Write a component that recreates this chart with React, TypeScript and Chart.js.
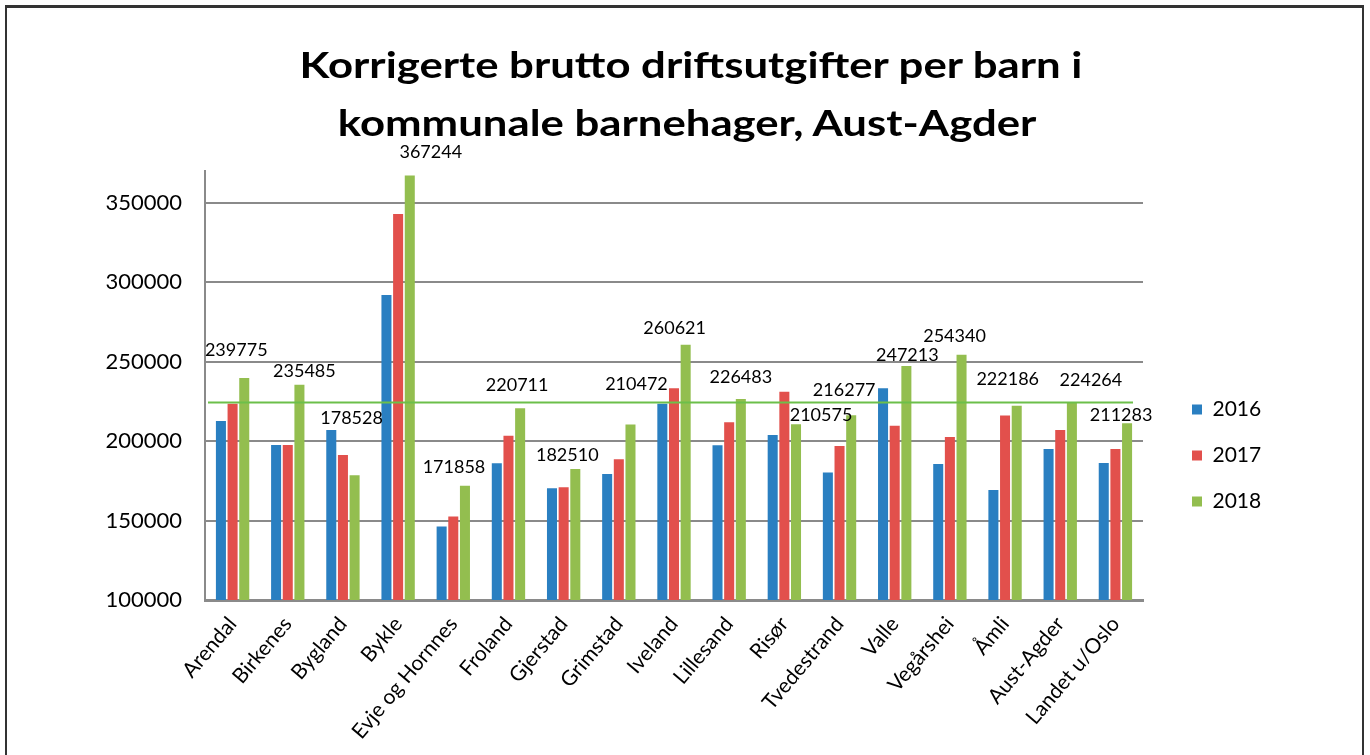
import React, { useEffect, useLayoutEffect, useRef } from "react";
import { Chart, registerables } from "chart.js";

Chart.register(...registerables);

const categories = [
  "Arendal", "Birkenes", "Bygland", "Bykle", "Evje og Hornnes", "Froland", "Gjerstad",
  "Grimstad", "Iveland", "Lillesand", "Risør", "Tvedestrand", "Valle", "Vegårshei",
  "Åmli", "Aust-Agder", "Landet u/Oslo",
];
const values2016 = [212700, 197600, 207000, 292000, 146200, 186000, 170300, 179300, 223500, 197400, 203900, 180200, 233300, 185600, 169300, 195100, 186300];
const values2017 = [223500, 197600, 191300, 343000, 152500, 203300, 171000, 188600, 233300, 211900, 231000, 197000, 209600, 202600, 216100, 207000, 195100];
const values2018 = [239775, 235485, 178528, 367244, 171858, 220711, 182510, 210472, 260621, 226483, 210575, 216277, 247213, 254340, 222186, 224264, 211283];
const seriesLabels = ["2016", "2017", "2018"];
const yTicks = [100000, 150000, 200000, 250000, 300000, 350000];
const averageLine = 224264;
const titleLines = ["Korrigerte brutto driftsutgifter per barn i", "kommunale barnehager, Aust-Agder"];

// label nudges (px) relative to the top centre of each 2018 bar
const labelNudges: [number, number][] = [
  [-8, -28], [5, -14], [-3, -57], [21, -23], [-11, -19], [-3, -23], [-8, -14], [6, -40],
  [-11, -17], [0, -22], [25, -9], [-7, -25], [1, -11], [-7, -19], [-9, -27], [19, -22], [-6, -8],
];

const COLORS = ["#2A7FC1", "#E2504C", "#93BE4F"];
const FONT = "Lato, 'Open Sans', sans-serif";

const overlayPlugin = {
  id: "overlay",
  afterDatasetsDraw(chart: any) {
    const { ctx, chartArea, scales } = chart;
    const y = scales.y.getPixelForValue(averageLine);
    ctx.save();
    ctx.strokeStyle = "#6CBF4A";
    ctx.lineWidth = 2;
    ctx.beginPath();
    ctx.moveTo(chartArea.left + 3, y);
    ctx.lineTo(chartArea.right - 10, y);
    ctx.stroke();

    const meta = chart.getDatasetMeta(2);
    ctx.fillStyle = "#000";
    ctx.font = `18px ${FONT}`;
    ctx.textAlign = "center";
    ctx.textBaseline = "middle";
    meta.data.forEach((bar: any, i: number) => {
      const [dx, dy] = labelNudges[i] || [0, -20];
      ctx.fillText(String(values2018[i]), bar.x + dx, bar.y + dy);
    });
    ctx.restore();
  },
};

export default function App() {
  const ref = useRef<HTMLCanvasElement | null>(null);
  const t1 = useRef<HTMLSpanElement | null>(null);
  const t2 = useRef<HTMLSpanElement | null>(null);

  useLayoutEffect(() => {
    const apply = () => {
      if (!t1.current || !t2.current) return;
      const w = t1.current.offsetWidth;
      if (!w) return;
      const k = 783 / w;
      [t1.current, t2.current].forEach((el) => {
        el.style.transform = `translateX(-50%) scaleX(${k})`;
      });
    };
    apply();
    if ((document as any).fonts && (document as any).fonts.ready) {
      (document as any).fonts.ready.then(apply);
    }
  }, []);

  useEffect(() => {
    if (!ref.current) return;
    const chart = new Chart(ref.current, {
      type: "bar",
      data: {
        labels: categories,
        datasets: [values2016, values2017, values2018].map((d, i) => ({
          label: seriesLabels[i],
          data: d,
          backgroundColor: COLORS[i],
          borderWidth: 0,
          categoryPercentage: 0.634,
          barPercentage: 0.86,
        })),
      },
      options: {
        responsive: false,
        animation: false,
        devicePixelRatio: 1,
        layout: { padding: { left: 0, right: 108, top: 171, bottom: 15 } },
        plugins: {
          tooltip: { enabled: false },
          title: { display: false },
          legend: {
            position: "right",
            align: "center",
            maxWidth: 95,
            labels: {
              boxWidth: 10,
              boxHeight: 10,
              padding: 25,
              color: "#000",
              font: { family: FONT, size: 21 },
            },
          },
        },
        scales: {
          x: {
            grid: { display: false },
            border: { display: true, color: "#8a8a8a", width: 3 },
            ticks: {
              color: "#000",
              font: { family: FONT, size: 21 },
              minRotation: 50,
              maxRotation: 50,
              autoSkip: false,
              padding: 4,
            },
            afterFit: (s: any) => { s.height = 140; },
          },
          y: {
            min: 100000,
            max: 370000,
            afterBuildTicks: (s: any) => { s.ticks = yTicks.map((v) => ({ value: v })); },
            grid: { color: "#8a8a8a", lineWidth: 2, drawTicks: false },
            border: { display: true, color: "#8a8a8a", width: 2 },
            ticks: {
              color: "#000",
              font: { family: FONT, size: 22 },
              padding: 23,
              callback: (v: any) => String(v),
            },
            afterFit: (s: any) => { s.width = 205; },
          },
          y2: {
            position: "right",
            display: true,
            grid: { display: false },
            border: { display: false },
            ticks: { display: false },
            afterFit: (s: any) => { s.width = 24; },
          },
        },
      },
      plugins: [overlayPlugin],
    } as any);
    return () => chart.destroy();
  }, []);

  const titleStyle: React.CSSProperties = {
    position: "absolute",
    left: 691,
    display: "inline-block",
    whiteSpace: "nowrap",
    fontFamily: "Lato, 'Open Sans', sans-serif",
    fontWeight: 700,
    fontSize: 36,
    lineHeight: "36px",
    color: "#000",
    transform: "translateX(-50%)",
    transformOrigin: "50% 50%",
  };

  return (
    <div style={{ position: "fixed", left: 0, top: 0, width: 1370, height: 755, background: "#fff", overflow: "hidden" }}>
      <div
        style={{
          position: "absolute", left: 5, top: 5, width: 1359, height: 800, boxSizing: "border-box",
          borderTop: "3px solid #333", borderLeft: "2px solid #333", borderRight: "2px solid #333",
        }}
      />
      <canvas ref={ref} width={1370} height={755} style={{ position: "absolute", left: 0, top: 0, display: "block" }} />
      <span ref={t1} style={{ ...titleStyle, top: 46 }}>{titleLines[0]}</span>
      <span ref={t2} style={{ ...titleStyle, left: 687, top: 104 }}>{titleLines[1]}</span>
    </div>
  );
}
